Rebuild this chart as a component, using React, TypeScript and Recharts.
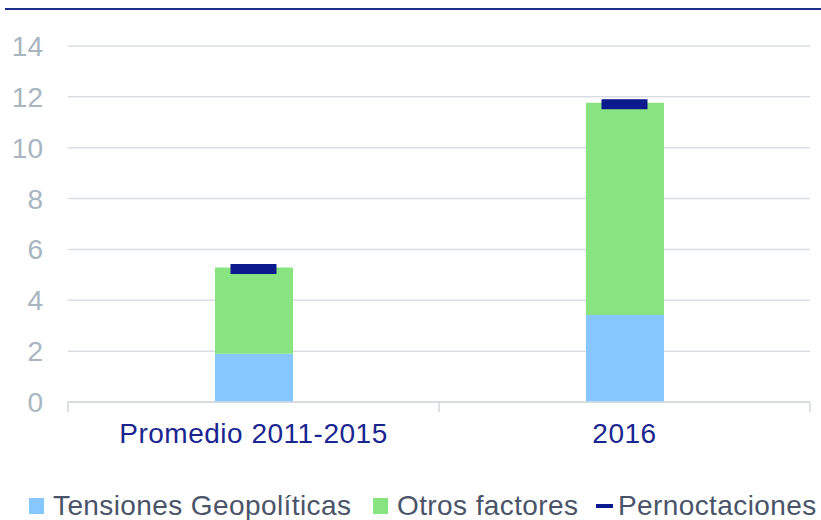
import React from 'react'
import {
  ComposedChart,
  Bar,
  Line,
  XAxis,
  YAxis,
  CartesianGrid,
} from 'recharts'

const categories = ['Promedio 2011-2015', '2016']
const tensiones = [1.9, 3.42]
const otros = [3.39, 8.35]
const pernoctaciones = [5.23, 11.71]
const yTicks = [0, 2, 4, 6, 8, 10, 12, 14]

const data = categories.map((name, i) => ({
  name,
  tensiones: tensiones[i],
  otros: otros[i],
  pernoctaciones: pernoctaciones[i],
}))

const FONT = '"Liberation Sans", Arial, sans-serif'
const TICK_GAP = 21

// short dark bar sitting on top of each stack
const MarkerDot = (props: any) => {
  const { cx, cy } = props
  if (cx == null || cy == null) return <g />
  return <rect x={cx - 23} y={cy - 5} width={46} height={10} fill="#0b1a8c" />
}

// category label plus the little tick marks at the category edges
const CategoryTick = (props: any) => {
  const { x, y, payload, index, visibleTicksCount } = props
  const half = payload?.offset ?? 0
  const axisY = y - TICK_GAP
  const isLast = index === (visibleTicksCount ?? categories.length) - 1
  return (
    <g>
      {half > 0 && (
        <line
          x1={x - half}
          x2={x - half}
          y1={axisY}
          y2={axisY + 10}
          stroke="#d3d8de"
          strokeWidth={1.5}
        />
      )}
      {half > 0 && isLast && (
        <line
          x1={x + half}
          x2={x + half}
          y1={axisY}
          y2={axisY + 10}
          stroke="#d3d8de"
          strokeWidth={1.5}
        />
      )}
      <text
        x={x}
        y={y}
        dy="0.71em"
        textAnchor="middle"
        fontSize={28}
        fill="#1a2590"
        fontFamily={FONT}
        letterSpacing={0.5}
      >
        {payload.value}
      </text>
    </g>
  )
}

export default function App() {
  return (
    <div style={styles.page}>
      <div style={styles.topRule} />
      <ComposedChart
        width={821}
        height={520}
        data={data}
        margin={{ top: 46, right: 11, bottom: 78, left: 0 }}
      >
        <CartesianGrid vertical={false} stroke="#d9dde3" strokeWidth={1.5} />
        <XAxis
          dataKey="name"
          height={40}
          tickSize={0}
          tickMargin={TICK_GAP}
          tickLine={false}
          axisLine={{ stroke: '#d3d8de', strokeWidth: 1.5 }}
          tick={<CategoryTick />}
        />
        <YAxis
          width={68}
          domain={[0, 14]}
          ticks={yTicks}
          axisLine={false}
          tickLine={false}
          tickSize={0}
          tickMargin={25}
          tick={{ fontSize: 28, fill: '#a9b5c1', fontFamily: FONT }}
        />
        <Bar
          dataKey="tensiones"
          stackId="a"
          fill="#87c7ff"
          barSize={78}
          isAnimationActive={false}
        />
        <Bar
          dataKey="otros"
          stackId="a"
          fill="#88e381"
          barSize={78}
          isAnimationActive={false}
        />
        <Line
          dataKey="pernoctaciones"
          stroke="none"
          dot={<MarkerDot />}
          activeDot={false}
          isAnimationActive={false}
        />
      </ComposedChart>

      {/* Legend */}
      <div style={{ ...styles.legendItem, left: 29 }}>
        <span style={{ ...styles.swatch, background: '#87c7ff' }} />
        Tensiones Geopolíticas
      </div>
      <div style={{ ...styles.legendItem, left: 373 }}>
        <span style={{ ...styles.swatch, background: '#88e381' }} />
        Otros factores
      </div>
      <div style={{ ...styles.legendItem, left: 596 }}>
        <span style={styles.lineSwatch} />
        Pernoctaciones
      </div>
    </div>
  )
}

const styles: Record<string, React.CSSProperties> = {
  page: {
    position: 'absolute',
    left: 0,
    top: 0,
    width: 821,
    height: 520,
    background: '#fff',
    overflow: 'hidden',
  },
  topRule: {
    position: 'absolute',
    left: 5,
    right: 0,
    top: 8,
    height: 2,
    background: '#1c2f8c',
  },
  legendItem: {
    position: 'absolute',
    top: 490,
    display: 'flex',
    alignItems: 'center',
    fontFamily: FONT,
    fontSize: 28,
    letterSpacing: 0.4,
    color: '#4a5468',
    whiteSpace: 'nowrap',
    lineHeight: '32px',
  },
  swatch: {
    display: 'inline-block',
    width: 15,
    height: 16,
    marginRight: 9,
  },
  lineSwatch: {
    display: 'inline-block',
    width: 17,
    height: 4,
    background: '#0b1a8c',
    marginRight: 5,
  },
}
